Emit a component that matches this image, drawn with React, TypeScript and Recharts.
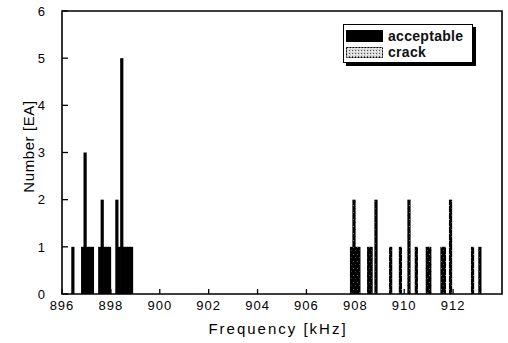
import React from 'react';
import { BarChart, Bar, XAxis, YAxis, ReferenceArea, Legend } from 'recharts';

// Histogram bins (kHz, bin centre) and counts per class
const FREQ_KHZ = [
  896.45,
  896.85, 896.95, 897.05, 897.15, 897.25,
  897.55, 897.65, 897.75, 897.85, 897.95,
  898.25, 898.35, 898.45, 898.55, 898.65, 898.75, 898.85,
  907.85, 907.95, 908.05, 908.15,
  908.55, 908.65,
  908.85,
  909.45,
  909.85,
  910.2,
  910.5,
  910.95, 911.05,
  911.55, 911.65,
  911.9,
  912.8,
  913.1,
];
const ACCEPTABLE = [
  1,
  1, 3, 1, 1, 1,
  1, 2, 1, 1, 1,
  2, 1, 5, 1, 1, 1, 1,
  0, 0, 0, 0,
  0, 0,
  0,
  0,
  0,
  0,
  0,
  0, 0,
  0, 0,
  0,
  0,
  0,
];
const CRACK = [
  0,
  0, 0, 0, 0, 0,
  0, 0, 0, 0, 0,
  0, 0, 0, 0, 0, 0, 0,
  1, 2, 1, 1,
  1, 1,
  2,
  1,
  1,
  2,
  1,
  1, 1,
  1, 1,
  2,
  1,
  1,
];
const X_TICKS = [896, 898, 900, 902, 904, 906, 908, 910, 912];
const Y_TICKS = [0, 1, 2, 3, 4, 5, 6];
const X_DOMAIN = [896, 914];
const Y_DOMAIN = [0, 6];
const SERIES_LABELS = ['acceptable', 'crack'];
const X_TITLE = 'Frequency [kHz]';
const Y_TITLE = 'Number [EA]';

const data = FREQ_KHZ.map((f, i) => ({ f, acceptable: ACCEPTABLE[i], crack: CRACK[i] }));

const FONT = '"Liberation Sans", Arial, Helvetica, sans-serif';

const XTick = (props: any) => {
  const { x, y, payload } = props;
  return (
    <g>
      <line x1={x} x2={x} y1={y} y2={y - 5} stroke="#000" strokeWidth={1.3} />
      <text x={x} y={y + 16} textAnchor="middle" fontSize={13} fontFamily={FONT} letterSpacing={1} fill="#000">
        {payload.value}
      </text>
    </g>
  );
};

const YTick = (props: any) => {
  const { x, y, payload } = props;
  return (
    <g>
      <line x1={x} x2={x + 6} y1={y} y2={y} stroke="#000" strokeWidth={1.3} />
      <text x={x - 17} y={y} dy="0.36em" textAnchor="end" fontSize={13} fontFamily={FONT} fill="#000">
        {payload.value}
      </text>
    </g>
  );
};

const XTitle = (props: any) => {
  const { viewBox } = props;
  const cx = viewBox.x + viewBox.width / 2 - 4;
  return (
    <text x={cx} y={viewBox.y + 40} textAnchor="middle" fontSize={15} fontFamily={FONT} letterSpacing={2} fill="#000">
      {X_TITLE}
    </text>
  );
};

const YTitle = (props: any) => {
  const { viewBox } = props;
  const cx = viewBox.x + 29;
  const cy = viewBox.y + viewBox.height / 2 - 6;
  return (
    <text
      x={cx}
      y={cy}
      transform={`rotate(-90 ${cx} ${cy})`}
      textAnchor="middle"
      dy="0.36em"
      fontSize={15}
      fontFamily={FONT}
      letterSpacing={0.6}
      fill="#000"
    >
      {Y_TITLE}
    </text>
  );
};

// Histogram bar: widened slightly so neighbouring bins merge into solid blocks
const HistBar = (props: any) => {
  const { x, y, width, height, speckle } = props;
  if (!height || height <= 0) return null;
  return (
    <g>
      <rect x={x - 0.5} y={y} width={width + 1} height={height} fill="#000" />
      {speckle ? (
        <>
          <defs>
            <pattern id="crackSpeckle" width="4" height="7" patternUnits="userSpaceOnUse">
              <rect x="1" y="2" width="1" height="1" fill="#6e6e6e" />
              <rect x="3" y="5" width="1" height="1" fill="#3c3c3c" />
            </pattern>
          </defs>
          <rect x={x - 0.5} y={y} width={width + 1} height={height} fill="url(#crackSpeckle)" />
        </>
      ) : null}
    </g>
  );
};

const LegendBox = () => (
  <div
    style={{
      border: '1.5px solid #000',
      boxShadow: '3px 3px 0 #000',
      background: '#fff',
      width: 124,
      padding: '2px 2px 2px 2px',
      fontFamily: FONT,
      fontSize: 14,
      fontWeight: 'bold',
      color: '#111',
      lineHeight: '16px',
    }}
  >
    <div style={{ display: 'flex', alignItems: 'center', height: 17 }}>
      <div style={{ width: 37, height: 12, background: '#000', marginRight: 5 }} />
      <span style={{ letterSpacing: 0.3 }}>{SERIES_LABELS[0]}</span>
    </div>
    <div style={{ display: 'flex', alignItems: 'center', height: 16 }}>
      <svg width={37} height={11} style={{ marginRight: 5, display: 'block' }}>
        <defs>
          <pattern id="legendStipple" width="3" height="3" patternUnits="userSpaceOnUse">
            <rect width="3" height="3" fill="#d8d8d8" />
            <rect x="0" y="0" width="1" height="1" fill="#555" />
            <rect x="2" y="1" width="1" height="1" fill="#fff" />
          </pattern>
        </defs>
        <rect x={0.5} y={0.5} width={36} height={10} fill="url(#legendStipple)" stroke="#000" strokeDasharray="2 1" />
      </svg>
      <span style={{ letterSpacing: 0.3 }}>{SERIES_LABELS[1]}</span>
    </div>
  </div>
);

export default function App() {
  return (
    <div style={{ position: 'absolute', left: 0, top: 0, width: 508, height: 343, background: '#fff' }}>
      <BarChart
        width={508}
        height={343}
        data={data}
        margin={{ top: 11, right: 6, bottom: 0, left: 0 }}
        barGap={0}
        barCategoryGap={0}
      >
        <XAxis
          dataKey="f"
          type="number"
          domain={X_DOMAIN}
          ticks={X_TICKS}
          interval={0}
          allowDataOverflow
          height={49}
          axisLine={false}
          tickLine={false}
          tickSize={0}
          tickMargin={0}
          tick={<XTick />}
          label={<XTitle />}
        />
        <YAxis
          type="number"
          domain={Y_DOMAIN}
          ticks={Y_TICKS}
          interval={0}
          allowDataOverflow
          width={62}
          axisLine={false}
          tickLine={false}
          tickSize={0}
          tickMargin={0}
          tick={<YTick />}
          label={<YTitle />}
        />
        <ReferenceArea
          x1={X_DOMAIN[0]}
          x2={X_DOMAIN[1]}
          y1={Y_DOMAIN[0]}
          y2={Y_DOMAIN[1]}
          fill="none"
          stroke="#000"
          strokeWidth={1.6}
          fillOpacity={0}
          ifOverflow="visible"
        />
        <Legend
          layout="vertical"
          align="center"
          verticalAlign="middle"
          content={<LegendBox />}
          wrapperStyle={{ left: 343, top: 24, width: 'auto' }}
        />
        <Bar dataKey="acceptable" name={SERIES_LABELS[0]} stackId="n" fill="#000" barSize={3} shape={<HistBar />} isAnimationActive={false} />
        <Bar dataKey="crack" name={SERIES_LABELS[1]} stackId="n" fill="#333" barSize={3} shape={<HistBar speckle />} isAnimationActive={false} />
      </BarChart>
    </div>
  );
}
